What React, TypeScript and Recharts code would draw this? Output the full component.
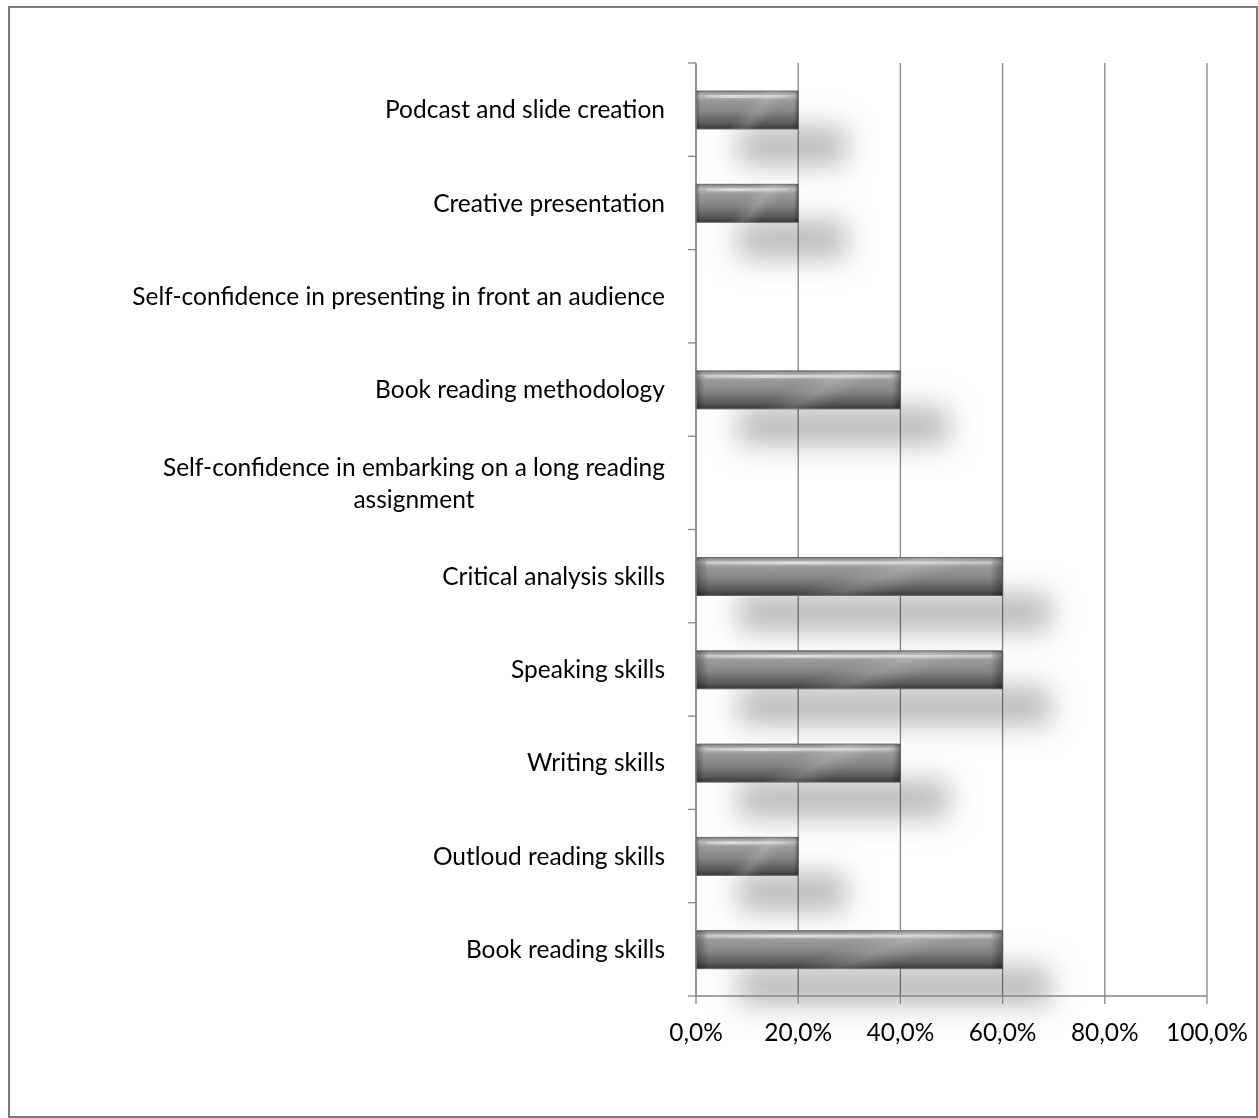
import React from 'react';
import { BarChart, Bar, XAxis, YAxis, CartesianGrid } from 'recharts';

const categories = [
  'Podcast and slide creation',
  'Creative presentation',
  'Self-confidence in presenting in front an audience',
  'Book reading methodology',
  'Self-confidence in embarking on a long reading\nassignment',
  'Critical analysis skills',
  'Speaking skills',
  'Writing skills',
  'Outloud reading skills',
  'Book reading skills',
];
const values = [20, 20, 0, 40, 0, 60, 60, 40, 20, 60];
const xTicks = [0, 20, 40, 60, 80, 100];

const data = categories.map((name, i) => ({ name, value: values[i] }));

const FONT = 'Lato, "Noto Sans", sans-serif';
const FONT_SIZE = 24.5;
const GRID = '#868686';
const TICK_SIZE = 8;
const TICK_MARGIN = 23;

let measureCtx: CanvasRenderingContext2D | null = null;
const measure = (s: string) => {
  if (typeof document === 'undefined') return s.length * FONT_SIZE * 0.5;
  if (!measureCtx) {
    const c = document.createElement('canvas');
    measureCtx = c.getContext('2d');
  }
  if (!measureCtx) return s.length * FONT_SIZE * 0.5;
  measureCtx.font = `${FONT_SIZE}px Lato, "Noto Sans", sans-serif`;
  return measureCtx.measureText(s).width;
};

const YTick = (props: any) => {
  const { x, y, payload, index, visibleTicksCount } = props;
  const lines = String(payload.value).split('\n');
  const half = payload.offset || 0;
  const axisX = x + TICK_SIZE + TICK_MARGIN;
  const blockW = Math.max(...lines.map(measure));
  const centerX = x - blockW / 2;
  return (
    <g>
      <line x1={axisX - TICK_SIZE} x2={axisX} y1={y - half} y2={y - half} stroke={GRID} strokeWidth={1.3} />
      {index === visibleTicksCount - 1 && (
        <line x1={axisX - TICK_SIZE} x2={axisX} y1={y + half} y2={y + half} stroke={GRID} strokeWidth={1.3} />
      )}
      {lines.map((l, i) => (
        <text
          key={i}
          x={lines.length === 1 ? x : centerX}
          y={y + (i - (lines.length - 1) / 2) * 32}
          dy="0.355em"
          textAnchor={lines.length === 1 ? 'end' : 'middle'}
          fontFamily={FONT}
          fontSize={FONT_SIZE}
          fill="#000"
        >
          {l}
        </text>
      ))}
    </g>
  );
};

const GlassBar = (props: any) => {
  const { x, y, width, height } = props;
  if (!width || width <= 0) return <g />;
  return (
    <g>
      <rect
        x={x + 42}
        y={y + 36}
        width={width + 6}
        height={height}
        fill="#000"
        opacity={0.27}
        filter="url(#barShadow)"
        style={{ mixBlendMode: 'multiply' }}
      />
      <rect x={x} y={y} width={width} height={height} fill="url(#barFill)" stroke="#6a6a6a" strokeWidth={1} />
      <rect x={x} y={y} width={width} height={height} fill="url(#barShine)" />
      <rect x={x} y={y} width={width} height={height} fill="url(#barEnds)" />
      <rect x={x + 10} y={y + 4} width={Math.max(0, width - 20)} height={3} fill="url(#barTopLine)" />
    </g>
  );
};

export default function App() {
  return (
    <div
      style={{
        position: 'fixed',
        left: 8,
        top: 6,
        width: 1250,
        height: 1112,
        border: '2px solid #7a7a7a',
        boxSizing: 'border-box',
        background: '#fff',
      }}
    >
      <BarChart
        width={1246}
        height={1108}
        data={data}
        layout="vertical"
        margin={{ top: 55, right: 49, left: 0, bottom: 90 }}
        barSize={38}
      >
        <defs>
          <filter id="barShadow" x="-60%" y="-200%" width="220%" height="500%">
            <feGaussianBlur stdDeviation="14" />
          </filter>
          <linearGradient id="barFill" x1="0" y1="0" x2="0" y2="1">
            <stop offset="0" stopColor="#808080" />
            <stop offset="0.12" stopColor="#bdbdbd" />
            <stop offset="0.25" stopColor="#9a9a9a" />
            <stop offset="0.55" stopColor="#848484" />
            <stop offset="0.85" stopColor="#5a5a5a" />
            <stop offset="1" stopColor="#383838" />
          </linearGradient>
          <linearGradient id="barTopLine" x1="0" y1="0" x2="1" y2="0">
            <stop offset="0" stopColor="#fff" stopOpacity="0.2" />
            <stop offset="0.3" stopColor="#fff" stopOpacity="0.55" />
            <stop offset="1" stopColor="#fff" stopOpacity="0.15" />
          </linearGradient>
          <linearGradient id="barShine" x1="0" y1="0" x2="1" y2="0.3">
            <stop offset="0" stopColor="#fff" stopOpacity="0" />
            <stop offset="0.55" stopColor="#fff" stopOpacity="0" />
            <stop offset="0.7" stopColor="#fff" stopOpacity="0.15" />
            <stop offset="0.85" stopColor="#fff" stopOpacity="0" />
          </linearGradient>
          <linearGradient id="barEnds" x1="0" y1="0" x2="1" y2="0">
            <stop offset="0" stopColor="#000" stopOpacity="0.35" />
            <stop offset="0.04" stopColor="#000" stopOpacity="0" />
            <stop offset="0.96" stopColor="#000" stopOpacity="0" />
            <stop offset="1" stopColor="#000" stopOpacity="0.35" />
          </linearGradient>
        </defs>
        <CartesianGrid horizontal={false} stroke={GRID} strokeWidth={1.3} fill="none" />
        <XAxis
          type="number"
          domain={[0, 100]}
          ticks={xTicks}
          interval={0}
          height={30}
          tickSize={TICK_SIZE}
          tickMargin={20}
          axisLine={{ stroke: GRID, strokeWidth: 1.3 }}
          tickLine={{ stroke: GRID, strokeWidth: 1.3 }}
          tick={{ fontFamily: FONT, fontSize: FONT_SIZE, fill: '#000' }}
          tickFormatter={(v: number) => v.toFixed(1).replace('.', ',') + '%'}
        />
        <YAxis
          type="category"
          dataKey="name"
          width={686}
          interval={0}
          tickSize={TICK_SIZE}
          tickMargin={TICK_MARGIN}
          tickLine={false}
          axisLine={{ stroke: GRID, strokeWidth: 1.3 }}
          tick={<YTick />}
        />
        <Bar dataKey="value" shape={<GlassBar />} isAnimationActive={false} />
      </BarChart>
    </div>
  );
}
